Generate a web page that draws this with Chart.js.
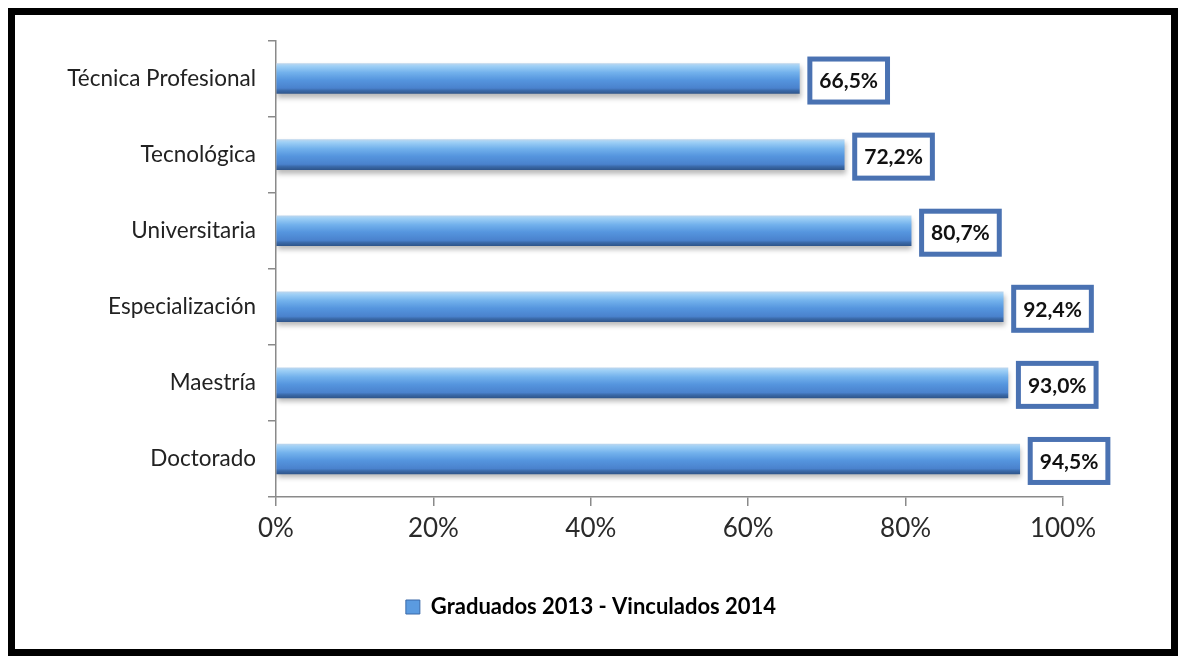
<!DOCTYPE html>
<html>
<head>
<meta charset="utf-8">
<script src="https://cdn.jsdelivr.net/npm/chart.js@4.4.1/dist/chart.umd.min.js"></script>
<style>
html,body{margin:0;padding:0;background:#fff;width:1178px;height:656px;overflow:hidden;}
#frame{position:absolute;left:8px;top:8px;width:1170px;height:648px;border:7px solid #000;box-sizing:border-box;background:#fff;}
#wrap{position:absolute;left:0;top:0;width:1156px;height:634px;}
</style>
</head>
<body>
<div id="frame"><div id="wrap"><canvas id="c"></canvas></div></div>
<script>
const categories = ["Técnica Profesional","Tecnológica","Universitaria","Especialización","Maestría","Doctorado"];
const values = [66.5, 72.2, 80.7, 92.4, 93.0, 94.5];
const valueLabels = ["66,5%","72,2%","80,7%","92,4%","93,0%","94,5%"];
const xTicks = [0,20,40,60,80,100];
const seriesName = "Graduados 2013 - Vinculados 2014";

Chart.defaults.font.family = "Lato, 'Open Sans', sans-serif";
const BAR_T = 30;

function barFill(ctx){
  const chart = ctx.chart;
  const y = chart.scales && chart.scales.y;
  if (!chart.chartArea || !y || ctx.dataIndex === undefined) return '#5b9bd5';
  const cy = y.getPixelForValue(ctx.dataIndex);
  const g = chart.ctx.createLinearGradient(0, cy - BAR_T/2, 0, cy + BAR_T/2);
  g.addColorStop(0, '#bcd6ee');
  g.addColorStop(0.08, '#9fd0f6');
  g.addColorStop(0.3, '#72b1ec');
  g.addColorStop(0.55, '#5595de');
  g.addColorStop(0.82, '#4a82cd');
  g.addColorStop(0.9, '#3a69a8');
  g.addColorStop(1, '#2f568c');
  return g;
}

const shadowPlugin = {
  id: 'shadow',
  afterLayout(chart){
    const lg = chart.legend;
    if (lg) { lg.left += 52; lg.right += 52; }
  },
  beforeDatasetsDraw(chart){
    const c = chart.ctx; c.save();
    c.shadowColor = 'rgba(0,0,0,0.28)'; c.shadowBlur = 5; c.shadowOffsetY = 4; c.shadowOffsetX = 1;
  },
  afterDatasetsDraw(chart){ chart.ctx.restore(); }
};

const labelPlugin = {
  id: 'valueBoxes',
  afterDatasetsDraw(chart){
    const c = chart.ctx;
    const meta = chart.getDatasetMeta(0);
    c.save();
    c.font = "bold 21px Lato, 'Open Sans', sans-serif";
    c.textAlign = 'center'; c.textBaseline = 'middle';
    meta.data.forEach((bar, i) => {
      const txt = valueLabels[i];
      const tw = c.measureText(txt).width;
      const w = tw + 24, h = 48;
      const x0 = bar.x + 8, y0 = bar.y - h/2 + 2;
      c.fillStyle = '#fff';
      c.fillRect(x0, y0, w, h);
      c.lineWidth = 5; c.strokeStyle = '#4a72b2';
      c.strokeRect(x0 + 2.5, y0 + 2.5, w - 5, h - 5);
      c.fillStyle = '#111';
      c.fillText(txt, x0 + w/2, y0 + h/2 + 1);
    });
    c.restore();
  }
};

new Chart(document.getElementById('c'), {
  type: 'bar',
  data: {
    labels: categories,
    datasets: [{
      label: seriesName,
      data: values,
      backgroundColor: barFill,
      borderWidth: 0,
      barThickness: BAR_T
    }]
  },
  options: {
    indexAxis: 'y',
    responsive: true,
    maintainAspectRatio: false,
    animation: false,
    layout: { padding: { left: 0, right: 108, top: 19, bottom: 21 } },
    scales: {
      x: {
        min: 0, max: 100,
        afterBuildTicks(s){ s.ticks = xTicks.map(v => ({value: v})); },
        ticks: { callback: v => v + '%', font: { size: 26 }, color: '#2a2a2a', padding: 7 },
        grid: { drawOnChartArea: false, drawTicks: true, tickLength: 9, color: '#8a8a8a', lineWidth: 1.5 },
        border: { color: '#8a8a8a', width: 1.5 },
        afterFit(s){ s.height = 89; }
      },
      y: {
        ticks: { font: { size: 22.5 }, color: '#222', padding: 12 },
        grid: { drawOnChartArea: false, drawTicks: true, tickLength: 8, offset: true, color: '#8a8a8a', lineWidth: 1.5 },
        border: { color: '#8a8a8a', width: 1.5 },
        afterFit(s){ s.width = 261; }
      }
    },
    plugins: {
      legend: {
        position: 'bottom',
        labels: {
          boxWidth: 14, boxHeight: 14, padding: 10,
          font: { size: 22, weight: 'bold' }, color: '#1a1a1a',
          generateLabels(){ return [{ text: seriesName, fillStyle: '#5b9be0', strokeStyle: '#3a69a8', lineWidth: 1, datasetIndex: 0 }]; }
        }
      },
      tooltip: { enabled: false }
    }
  },
  plugins: [shadowPlugin, labelPlugin]
});
</script>
</body>
</html>
